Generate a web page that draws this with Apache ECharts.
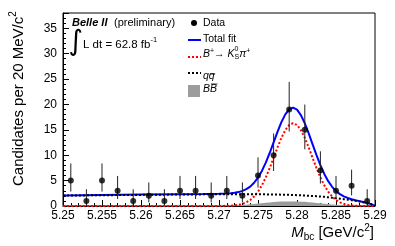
<!DOCTYPE html>
<html><head><meta charset="utf-8">
<script src="https://cdn.jsdelivr.net/npm/echarts@6/dist/echarts.min.js"></script>
<style>html,body{margin:0;padding:0;background:#fff}#c{width:395px;height:246px}</style>
</head><body><div id="c"></div>
<script>
// ---- data ----
const binCenters = [5.251,5.253,5.255,5.257,5.259,5.261,5.263,5.265,5.267,5.269,5.271,5.273,5.275,5.277,5.279,5.281,5.283,5.285,5.287,5.289];
const counts     = [5,1,5,3,1,2,1,3,3,2,3,2,6,10,19,15,7,3,4,1];
const errLow     = [2.84,0.17,2.84,1.37,0.17,0.71,0.17,1.37,1.37,0.71,1.37,0.71,3.62,6.89,14.67,11.16,4.42,1.37,2.09,0.17];
const errHigh    = [8.38,3.30,8.38,5.92,3.30,4.64,3.30,5.92,5.92,4.64,5.92,4.64,9.58,14.27,24.44,19.97,10.77,5.92,7.16,3.30];

const curveX = [5.250,5.255,5.260,5.265,5.268,5.270,5.2710,5.2715,5.2720,5.2725,5.2730,5.2735,5.2740,5.2745,5.2750,5.2755,5.2760,5.2765,5.2770,5.2775,5.2780,5.2785,5.2790,5.2795,5.2800,5.2805,5.2810,5.2815,5.2820,5.2825,5.2830,5.2835,5.2840,5.2845,5.2850,5.2855,5.2860,5.2865,5.2870,5.2875,5.2880,5.2885,5.2890,5.2895,5.2900];
const totalFit = [2.08,2.16,2.24,2.32,2.37,2.42,2.46,2.51,2.60,2.74,2.97,3.32,3.82,4.58,5.59,6.91,8.55,10.44,12.51,14.60,16.51,18.04,19.04,19.36,18.97,17.90,16.29,14.30,12.13,10.00,8.03,6.31,4.89,3.78,2.93,2.34,1.91,1.59,1.34,1.14,0.96,0.78,0.58,0.37,0.00];
const signalFit = [0,0,0,0,0,0.01,0.03,0.06,0.12,0.23,0.42,0.72,1.17,1.86,2.81,4.06,5.63,7.46,9.47,11.52,13.41,14.94,15.95,16.30,15.95,14.94,13.41,11.52,9.47,7.46,5.63,4.06,2.81,1.86,1.17,0.72,0.42,0.23,0.12,0.06,0.03,0.01,0,0,0];
const qqbarFit = [2.05,2.12,2.19,2.26,2.29,2.31,2.32,2.32,2.33,2.33,2.33,2.33,2.32,2.32,2.31,2.30,2.29,2.28,2.27,2.25,2.23,2.21,2.19,2.16,2.13,2.10,2.06,2.02,1.97,1.93,1.87,1.80,1.71,1.62,1.52,1.43,1.34,1.24,1.13,1.01,0.88,0.73,0.55,0.35,0.00];
const bbbarFit = [0.03,0.04,0.05,0.06,0.08,0.10,0.11,0.13,0.15,0.18,0.22,0.27,0.33,0.40,0.47,0.55,0.63,0.70,0.77,0.83,0.87,0.89,0.90,0.90,0.89,0.86,0.82,0.76,0.69,0.61,0.53,0.45,0.37,0.30,0.24,0.19,0.15,0.12,0.09,0.07,0.05,0.04,0.03,0.02,0.00];

const xMin = 5.25, xMax = 5.29, xStep = 0.005;
const yMin = 0, yMax = 38, yStep = 5;

// ---- helpers ----
const FF = '"Liberation Sans", Arial, sans-serif';
const mctx = document.createElement('canvas').getContext('2d');
function tw(t, f){ mctx.font = f; return mctx.measureText(t).width; }
function txt(x, y, text, font, extra){
  return Object.assign({type:'text', x:x, y:y, style:{text:text, font:font, fill:'#000',
    align:'left', verticalAlign:'middle', textAlign:'left', textVerticalAlign:'middle'}}, extra||{});
}
function run(x0, y0, pieces){
  const out = []; let x = x0;
  pieces.forEach(p => {
    if (p.stack){
      out.push(txt(x, y0 + p.stack[0][2], p.stack[0][0], p.stack[0][1]));
      out.push(txt(x, y0 + p.stack[1][2], p.stack[1][0], p.stack[1][1]));
      x += Math.max(tw(p.stack[0][0], p.stack[0][1]), tw(p.stack[1][0], p.stack[1][1]));
    } else {
      out.push(txt(x, y0 + (p[2]||0), p[0], p[1]));
      x += tw(p[0], p[1]);
    }
  });
  return {els: out, end: x};
}

const f105 = '10.5px ' + FF, i105 = 'italic 10.5px ' + FF, s7 = '7px ' + FF;
const graphics = [];

// top-left labels
graphics.push(txt(72, 23, 'Belle II', 'italic bold 11px ' + FF));
graphics.push(txt(114, 23, '(preliminary)', '11px ' + FF));
graphics.push(txt(68.5, 43, '\u222B', '28px "DejaVu Sans", ' + FF));
graphics.push(txt(83, 45, 'L dt = 62.8 fb', '11.5px ' + FF));
graphics.push(txt(83 + tw('L dt = 62.8 fb', '11.5px ' + FF), 40, '-1', '7.5px ' + FF));

// legend
graphics.push({type:'circle', shape:{cx:194, cy:23, r:3}, style:{fill:'#000'}});
graphics.push(txt(203, 23.5, 'Data', f105));
graphics.push({type:'line', shape:{x1:188, y1:40, x2:201, y2:40}, style:{stroke:'#0000ff', lineWidth:2}});
graphics.push(txt(203, 39.5, 'Total fit', f105));
graphics.push({type:'line', shape:{x1:188, y1:57, x2:201, y2:57}, style:{stroke:'#ff0000', lineWidth:2, lineDash:[2,2]}});
run(203, 54.5, [['B', i105], ['+', s7, -3], ['\u2192 ', f105], ['K', i105],
  {stack:[['0', s7, -5], ['S', s7, 3]]}, ['\u03C0', i105], ['+', s7, -3]]).els.forEach(e => graphics.push(e));
graphics.push({type:'line', shape:{x1:188, y1:73, x2:201, y2:73}, style:{stroke:'#000', lineWidth:2, lineDash:[2,2]}});
{
  const wq = tw('q', i105);
  graphics.push(txt(203, 76.5, 'q', i105));
  graphics.push(txt(203 + wq, 76.5, 'q', i105));
  graphics.push({type:'line', shape:{x1:203 + wq + 1, y1:74, x2:203 + 2*wq + 0.5, y2:74}, style:{stroke:'#000', lineWidth:0.8}});
}
graphics.push({type:'rect', shape:{x:188, y:85, width:12, height:12}, style:{fill:'#9c9c9c'}});
{
  const wb = tw('B', i105);
  graphics.push(txt(203, 89.5, 'B', i105));
  graphics.push(txt(203 + wb, 89.5, 'B', i105));
  graphics.push({type:'line', shape:{x1:203 + wb + 1, y1:84, x2:203 + 2*wb + 0.5, y2:84}, style:{stroke:'#000', lineWidth:0.8}});
}

// y-axis title (rotated)
{
  const f15 = '15px ' + FF;
  const mainT = 'Candidates per 20 MeV/c';
  const wm = tw(mainT, f15);
  graphics.push({type:'group', x:19, y:186, rotation:Math.PI/2, children:[
    txt(0, 0, mainT, f15),
    txt(wm, -6, '2', '10px ' + FF)
  ]});
}
// x-axis title, right-aligned
{
  const f15 = '15px ' + FF, i15 = 'italic 15px ' + FF, f10 = '10px ' + FF;
  const pieces = [['M', i15, 0], ['bc', f10, 4], [' [GeV/c', f15, 0], ['2', f10, -5], [']', f15, 0]];
  let total = 0; pieces.forEach(p => total += tw(p[0], p[1]));
  run(374 - total, 233, pieces).els.forEach(e => graphics.push(e));
}

const chart = echarts.init(document.getElementById('c'), null, {renderer:'canvas'});
const pairs = (ys) => curveX.map((x, i) => [x, ys[i]]);

chart.setOption({
  animation: false,
  backgroundColor: '#fff',
  grid: {left:63, right:20, top:13, bottom:40, show:true, borderColor:'#000', borderWidth:1, backgroundColor:'transparent'},
  xAxis: {
    type:'value', min:xMin, max:xMax, interval:xStep,
    axisLine:{show:true, lineStyle:{color:'#000', width:1}},
    axisTick:{show:true, inside:true, length:6, lineStyle:{color:'#000'}},
    minorTick:{show:true, splitNumber:5, length:3, lineStyle:{color:'#000'}},
    splitLine:{show:false},
    axisLabel:{color:'#000', fontSize:12, fontFamily:FF, margin:4,
      formatter: v => String(+v.toFixed(3))}
  },
  yAxis: {
    type:'value', min:yMin, max:yMax, interval:yStep,
    axisLine:{show:true, lineStyle:{color:'#000', width:1}},
    axisTick:{show:true, inside:true, length:6, lineStyle:{color:'#000'}},
    minorTick:{show:true, splitNumber:5, length:3, lineStyle:{color:'#000'}},
    splitLine:{show:false},
    axisLabel:{color:'#000', fontSize:12, fontFamily:FF, margin:6,
      formatter: v => (Math.abs(v % yStep) < 1e-9 ? String(v) : '')}
  },
  graphic: graphics,
  series: [
    {type:'line', name:'BBbar', data:pairs(bbbarFit), showSymbol:false, silent:true,
     lineStyle:{width:0}, areaStyle:{color:'#9c9c9c', opacity:1}, z:1},
    {type:'line', name:'Total fit', data:pairs(totalFit), showSymbol:false, silent:true,
     lineStyle:{color:'#0000ff', width:2}, z:2},
    {type:'line', name:'Signal', data:pairs(signalFit), showSymbol:false, silent:true,
     lineStyle:{color:'#ff0000', width:2, type:[2,2]}, z:3},
    {type:'line', name:'qqbar', data:pairs(qqbarFit), showSymbol:false, silent:true,
     lineStyle:{color:'#000', width:2, type:[2,2]}, z:4},
    {type:'custom', name:'errors', z:5, silent:true,
     data: binCenters.map((x, i) => [x, errLow[i], errHigh[i]]),
     renderItem: (params, api) => {
       const p1 = api.coord([api.value(0), api.value(1)]);
       const p2 = api.coord([api.value(0), api.value(2)]);
       return {type:'line', shape:{x1:p1[0], y1:p1[1], x2:p2[0], y2:p2[1]},
               style:{stroke:'#222', lineWidth:1}};
     }},
    {type:'scatter', name:'Data', data: binCenters.map((x, i) => [x, counts[i]]),
     symbol:'circle', symbolSize:6, itemStyle:{color:'#000'}, z:6, silent:true}
  ]
});
</script>
</body></html>
